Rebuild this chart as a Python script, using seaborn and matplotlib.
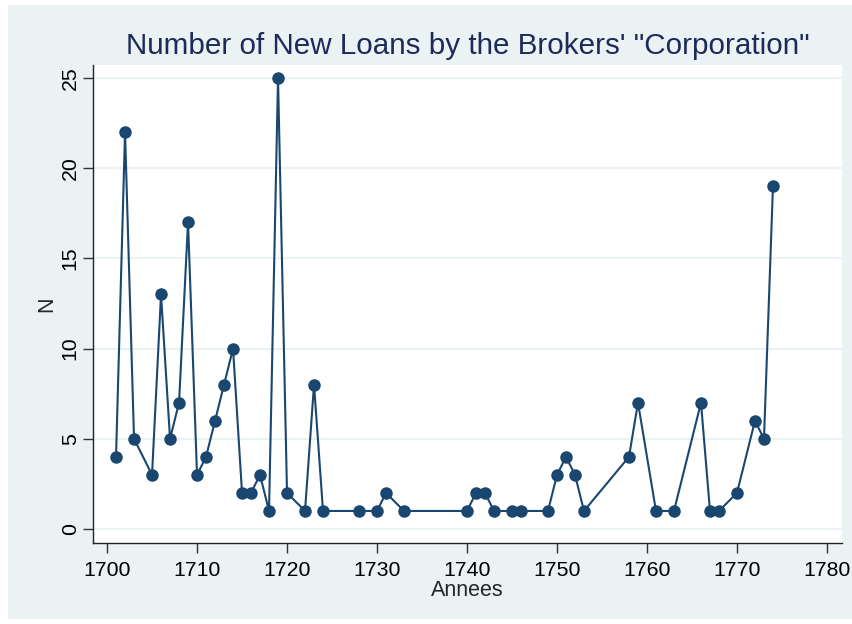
import matplotlib
matplotlib.use("Agg")
import matplotlib.pyplot as plt
import seaborn as sns
import pandas as pd
from matplotlib.patches import Rectangle

years = [1701, 1702, 1703, 1705, 1706, 1707, 1708, 1709, 1710, 1711, 1712, 1713,
         1714, 1715, 1716, 1717, 1718, 1719, 1720, 1722, 1723, 1724, 1728, 1730,
         1731, 1733, 1740, 1741, 1742, 1743, 1745, 1746, 1749, 1750, 1751, 1752,
         1753, 1758, 1759, 1761, 1763, 1766, 1767, 1768, 1770, 1772, 1773, 1774]
loans = [4, 22, 5, 3, 13, 5, 7, 17, 3, 4, 6, 8,
         10, 2, 2, 3, 1, 25, 2, 1, 8, 1, 1, 1,
         2, 1, 1, 2, 2, 1, 1, 1, 1, 3, 4, 3,
         1, 4, 7, 1, 1, 7, 1, 1, 2, 6, 5, 19]
x_ticks = [1700, 1710, 1720, 1730, 1740, 1750, 1760, 1770, 1780]
y_ticks = [0, 5, 10, 15, 20, 25]

df = pd.DataFrame({"Annees": years, "N": loans})

sns.set_style("white")
plt.rcParams["font.family"] = ["Liberation Sans", "DejaVu Sans"]

bg = "#EAF2F3"
navy = "#1A476F"
fig = plt.figure(figsize=(8.53, 6.24), dpi=100, facecolor="white")
fig.patches.append(Rectangle((8 / 853, 1 - 619 / 624), 845 / 853, 614 / 624,
                             transform=fig.transFigure, facecolor=bg,
                             edgecolor="none", zorder=-10))
ax = fig.add_axes([93 / 853, 1 - 543 / 624, 749 / 853, 478 / 624])
ax.set_facecolor("white")

sns.lineplot(data=df, x="Annees", y="N", ax=ax, color=navy, linewidth=1.5,
             marker="o", markersize=9, markeredgecolor=navy, markeredgewidth=0,
             zorder=3)

ax.set_xlim(1698.44, 1781.67)
ax.set_ylim(-0.776, 25.72)
ax.set_xticks(x_ticks)
ax.set_yticks(y_ticks)
ax.set_yticklabels([str(v) for v in y_ticks], rotation=90, va="center")
ax.grid(axis="y", color=bg, linewidth=1.6)
ax.grid(axis="x", visible=False)
for s in ["top", "right"]:
    ax.spines[s].set_visible(False)
for s in ["left", "bottom"]:
    ax.spines[s].set_color("#222222")
    ax.spines[s].set_linewidth(1.0)
ax.tick_params(axis="both", which="major", direction="out", length=7, width=1,
               color="#333333", labelsize=15.3, labelcolor="black",
               left=True, bottom=True)
ax.tick_params(axis="x", pad=6.3)
ax.tick_params(axis="y", pad=2.5)
ax.set_xlabel("Annees", fontsize=15.5, labelpad=0)
ax.set_ylabel("N", fontsize=15.5, labelpad=2.2)
ax.set_title("Number of New Loans by the Brokers' \"Corporation\"", fontsize=21.3,
             color="#1E2A5A", pad=8)

fig.savefig("out.png", dpi=100, facecolor="white")
